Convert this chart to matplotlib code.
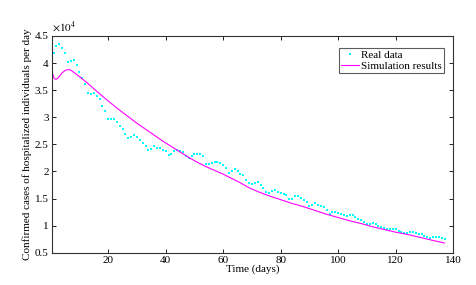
import numpy as np
import matplotlib.pyplot as plt

# real data: hospitalized cases per day (x 10^4), day 1..137
days = np.arange(1, 138)
real = [4.19, 4.31, 4.36, 4.27, 4.18, 4.01, 4.04, 4.06, 3.96, 3.84,
        3.72, 3.61, 3.45, 3.42, 3.44, 3.39, 3.33, 3.21, 3.11, 2.97,
        2.96, 2.96, 2.92, 2.84, 2.78, 2.70, 2.61, 2.63, 2.67, 2.63,
        2.58, 2.53, 2.47, 2.39, 2.41, 2.47, 2.44, 2.43, 2.39, 2.38,
        2.30, 2.32, 2.38, 2.39, 2.38, 2.35, 2.28, 2.24, 2.28, 2.32,
        2.33, 2.32, 2.28, 2.14, 2.13, 2.15, 2.18, 2.18, 2.16, 2.12,
        2.07, 1.98, 2.00, 2.04, 2.01, 1.96, 1.93, 1.84, 1.79, 1.77,
        1.78, 1.81, 1.75, 1.69, 1.63, 1.61, 1.64, 1.66, 1.63, 1.60,
        1.58, 1.56, 1.50, 1.50, 1.55, 1.55, 1.51, 1.47, 1.43, 1.37,
        1.38, 1.41, 1.39, 1.37, 1.34, 1.29, 1.22, 1.25, 1.25, 1.23,
        1.21, 1.20, 1.18, 1.20, 1.19, 1.16, 1.13, 1.10, 1.07, 1.04,
        1.04, 1.05, 1.03, 0.99, 0.97, 0.95, 0.93, 0.93, 0.94, 0.93,
        0.91, 0.88, 0.86, 0.86, 0.88, 0.88, 0.87, 0.85, 0.84, 0.81,
        0.80, 0.78, 0.79, 0.80, 0.79, 0.77, 0.75]

# simulation curve (x 10^4)
sim_t = [0, 0.4, 0.8, 1.2, 1.7, 2.3, 3, 4, 5, 6, 7, 8, 10, 13, 16, 20,
         24, 27, 30, 33, 36, 39, 42, 45, 48, 51, 54, 57, 60, 63, 66, 69,
         72, 76, 80, 84, 88, 92, 96, 100, 104, 108, 112, 116, 120, 124,
         128, 132, 137]
sim = [4.00, 3.88, 3.78, 3.72, 3.70, 3.71, 3.75, 3.82, 3.86, 3.88, 3.87,
       3.83, 3.75, 3.62, 3.48, 3.30, 3.13, 3.01, 2.89, 2.78, 2.67, 2.56,
       2.46, 2.36, 2.26, 2.17, 2.09, 2.02, 1.95, 1.87, 1.79, 1.70, 1.63,
       1.55, 1.48, 1.41, 1.35, 1.28, 1.21, 1.15, 1.09, 1.04, 0.98, 0.93,
       0.88, 0.84, 0.79, 0.74, 0.68]

xticks = [20, 40, 60, 80, 100, 120, 140]
yticks = [0.5, 1, 1.5, 2, 2.5, 3, 3.5, 4, 4.5]
yticklabels = ["0.5", "1", "1.5", "2", "2.5", "3", "3.5", "4", "4.5"]

plt.rcParams.update({
    "font.family": "serif",
    "font.serif": ["Liberation Serif", "DejaVu Serif"],
    "font.size": 8,
    "mathtext.fontset": "stix"})

fig = plt.figure(figsize=(4.77, 2.85), dpi=100)
ax = fig.add_axes([0.108, 0.113, 0.842, 0.761])

ax.plot(days, real, linestyle='none', marker='s', ms=2.0, mew=0,
        color=(0, 1, 1), label="Real data")
ax.plot(sim_t, sim, color=(1, 0, 1), linewidth=0.8, label="Simulation results")

ax.set_xlim(0.3, 140)
ax.set_ylim(0.5, 4.5)
ax.set_xticks(xticks)
ax.set_yticks(yticks)
ax.set_yticklabels(yticklabels)
ax.tick_params(direction='in', top=True, right=True, length=3, width=0.6,
               labelsize=8, pad=2)
for s in ax.spines.values():
    s.set_linewidth(0.8)
    s.set_color('#333333')

ax.set_xlabel("Time (days)", fontsize=8, labelpad=0)
ax.set_ylabel("Confirmed cases of hospitalized individuals per day",
              fontsize=8, labelpad=2)
ax.text(0.0, 1.01, r"$\times10^4$", transform=ax.transAxes, fontsize=8,
        ha='left', va='bottom')

leg = ax.legend(loc='upper right', bbox_to_anchor=(0.977, 0.945),
                fontsize=8, frameon=True, fancybox=False, borderpad=0.2,
                handlelength=1.6, handletextpad=0.2, borderaxespad=0,
                labelspacing=0.1, markerscale=1.0)
leg.get_frame().set_edgecolor('#333333')
leg.get_frame().set_linewidth(0.8)

plt.savefig("out.png", dpi=100)
plt.close()
